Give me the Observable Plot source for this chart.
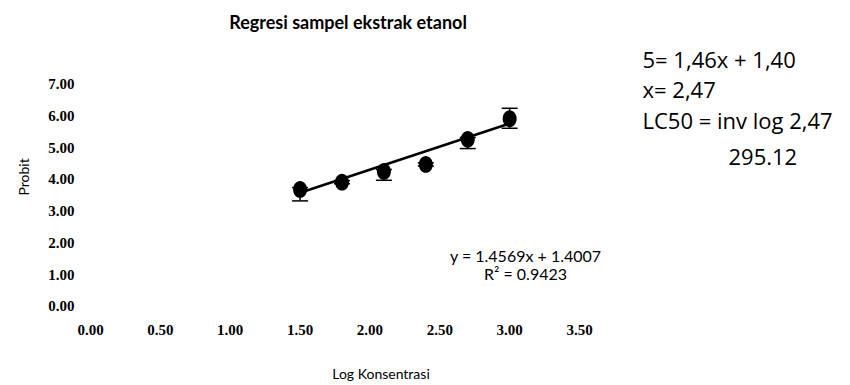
<!DOCTYPE html>
<html>
<head>
<meta charset="utf-8">
<script src="https://cdn.jsdelivr.net/npm/d3@7"></script>
<script src="https://cdn.jsdelivr.net/npm/@observablehq/plot@0.6"></script>
<style>
  html, body { margin: 0; padding: 0; background: #fff; }
  #chart svg { display: block; }
</style>
</head>
<body>
<div id="chart"></div>
<script>
// ---- data ----
const logKonsentrasi = [1.5, 1.8, 2.1, 2.4, 2.7, 3.0];
const probit = [3.69, 3.92, 4.26, 4.48, 5.27, 5.92];
const errorPlus = [0.06, 0.05, 0.06, 0.05, 0.06, 0.33];
const errorMinus = [0.36, 0.05, 0.28, 0.05, 0.29, 0.30];
const trendSlope = 1.4569;
const trendIntercept = 1.4007;
const trendRange = [1.5, 3.0];
const xTicks = [0, 0.5, 1, 1.5, 2, 2.5, 3, 3.5];
const yTicks = [0, 1, 2, 3, 4, 5, 6, 7];
const chartTitle = "Regresi sampel ekstrak etanol";
const xLabel = "Log Konsentrasi";
const yLabel = "Probit";
const equationLines = ["y = 1.4569x + 1.4007", "R² = 0.9423"];
const noteLines = ["5= 1,46x + 1,40", "x= 2,47", "LC50 = inv log 2,47"];
const noteResult = "295.12";

const points = logKonsentrasi.map((x, i) => ({x, y: probit[i], lo: probit[i] - errorMinus[i], hi: probit[i] + errorPlus[i]}));
const trend = trendRange.map(x => ({x, y: trendSlope * x + trendIntercept}));

// ellipse marker (slightly taller than wide) and error-bar cap
const ellipse = {
  draw(ctx, size) {
    const r = Math.sqrt(size / Math.PI), rx = r, ry = r * 1.2, k = 0.5523;
    ctx.moveTo(rx, 0);
    ctx.bezierCurveTo(rx, ry * k, rx * k, ry, 0, ry);
    ctx.bezierCurveTo(-rx * k, ry, -rx, ry * k, -rx, 0);
    ctx.bezierCurveTo(-rx, -ry * k, -rx * k, -ry, 0, -ry);
    ctx.bezierCurveTo(rx * k, -ry, rx, -ry * k, rx, 0);
    ctx.closePath();
  }
};
const cap = {
  draw(ctx, size) {
    const r = Math.sqrt(size / Math.PI);
    ctx.moveTo(-r, 0);
    ctx.lineTo(r, 0);
  }
};

const sans = "Lato, 'Liberation Sans', sans-serif";
const serif = "'Liberation Serif', serif";
const note = "'Open Sans', 'Noto Sans', sans-serif";

const chart = Plot.plot({
  width: 850,
  height: 385,
  marginLeft: 90,
  marginRight: 271,
  marginTop: 84,
  marginBottom: 79,
  style: {background: "#fff", color: "#000", fontFamily: serif, fontSize: "15px"},
  x: {domain: [0, 3.5]},
  y: {domain: [0, 7]},
  marks: [
    Plot.axisX(xTicks, {tickSize: 0, tickPadding: 18, tickFormat: d3.format(".2f"), label: null, fontFamily: serif, fontSize: 15, fontWeight: "bold"}),
    Plot.axisY(yTicks, {tickSize: 0, tickPadding: 16, tickFormat: d3.format(".2f"), label: null, fontFamily: serif, fontSize: 15, fontWeight: "bold"}),
    Plot.line(trend, {x: "x", y: "y", stroke: "#000", strokeWidth: 2.6}),
    Plot.ruleX(points, {x: "x", y1: "lo", y2: "hi", stroke: "#000", strokeWidth: 1.5}),
    Plot.dot(points, {x: "x", y: "lo", symbol: cap, r: 8, stroke: "#000", strokeWidth: 1.5}),
    Plot.dot(points, {x: "x", y: "hi", symbol: cap, r: 8, stroke: "#000", strokeWidth: 1.5}),
    Plot.dot(points, {x: "x", y: "y", symbol: ellipse, r: 7, fill: "#000", stroke: "none"}),
    // title
    Plot.text([chartTitle], {frameAnchor: "top", dx: 13, dy: -61, lineAnchor: "middle", fontFamily: sans, fontWeight: "bold", fontSize: 18, fill: "#000"}),
    // axis titles
    Plot.text([yLabel], {frameAnchor: "left", dx: -66, rotate: -90, lineAnchor: "middle", fontFamily: sans, fontSize: 14, fill: "#000"}),
    Plot.text([xLabel], {frameAnchor: "bottom", dx: 46, dy: 68, lineAnchor: "middle", fontFamily: sans, fontSize: 14, fill: "#000"}),
    // trendline equation
    Plot.text([equationLines.join("\n")], {frameAnchor: "bottom-right", dx: -54, dy: -58, textAnchor: "middle", lineAnchor: "top", lineHeight: 1.15, fontFamily: sans, fontSize: 16, fill: "#000"}),
    // LC50 note
    Plot.text([noteLines.join("\n")], {frameAnchor: "top-right", dx: 63, dy: 4, textAnchor: "start", lineAnchor: "middle", lineHeight: 1.4, fontFamily: note, fontSize: 22, fill: "#000"}),
    Plot.text([noteResult], {frameAnchor: "top-right", dx: 149, dy: 73, textAnchor: "start", lineAnchor: "middle", fontFamily: note, fontSize: 22, fill: "#000"})
  ]
});
document.getElementById("chart").appendChild(chart);
</script>
</body>
</html>
